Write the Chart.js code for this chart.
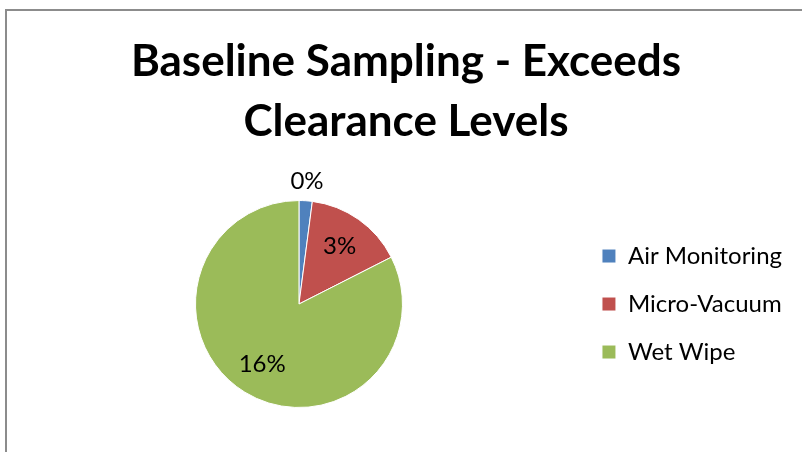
<!DOCTYPE html>
<html>
<head>
<meta charset="utf-8">
<script src="https://cdn.jsdelivr.net/npm/chart.js@4.4.0/dist/chart.umd.min.js"></script>
<style>
  html, body { margin: 0; padding: 0; background: #fff; overflow: hidden; }
  #wrap { position: relative; width: 802px; height: 452px; overflow: hidden; }
  #frame { position: absolute; left: 5px; top: 9px; width: 900px; height: 600px;
           border-left: 2px solid #8c8c8c; border-top: 2px solid #8c8c8c; }
  canvas { position: absolute; left: 0; top: 0; }
</style>
</head>
<body>
<div id="wrap">
  <div id="frame"></div>
  <canvas id="pie" width="802" height="452"></canvas>
</div>
<script>
const titleLines = ['Baseline Sampling - Exceeds', 'Clearance Levels'];
const categories = ['Air Monitoring', 'Micro-Vacuum', 'Wet Wipe'];
const values = [0.4, 3, 16];
const colors = ['#4F81BD', '#C0504D', '#9BBB59'];

// value labels: inside for big slices, outside for the tiny one
const sliceLabels = {
    id: 'sliceLabels',
    afterDatasetsDraw(chart) {
        const ctx = chart.ctx;
        const meta = chart.getDatasetMeta(0);
        ctx.save();
        ctx.font = '24px Lato';
        ctx.fillStyle = '#000';
        ctx.textAlign = 'center';
        ctx.textBaseline = 'middle';
        meta.data.forEach((arc, i) => {
            const mid = (arc.startAngle + arc.endAngle) / 2;
            const frac = (arc.endAngle - arc.startAngle) / (2 * Math.PI);
            const r = frac < 0.05 ? arc.outerRadius + 20 : arc.outerRadius * 0.68;
            const x = arc.x + Math.cos(mid) * r;
            const y = arc.y + Math.sin(mid) * r;
            ctx.fillText(Math.round(values[i]) + '%', x, y);
        });
        ctx.restore();
    }
};

const pieChart = new Chart(document.getElementById('pie').getContext('2d'), {
    type: 'pie',
    data: {
        labels: categories,
        datasets: [{
            data: values,
            backgroundColor: colors,
            borderColor: '#ffffff',
            borderWidth: 1
        }]
    },
    options: {
        responsive: false,
        devicePixelRatio: 1,
        animation: false,
        layout: {
            padding: { left: 20, right: 10, top: 0, bottom: 44 }
        },
        plugins: {
            title: {
                display: true,
                text: titleLines,
                color: '#000',
                font: { family: 'Lato', size: 44, weight: 'bold', lineHeight: 1.364 },
                padding: { top: 32, bottom: 48 }
            },
            legend: {
                position: 'right',
                fullSize: false,
                labels: {
                    color: '#000',
                    font: { family: 'Lato', size: 24 },
                    boxWidth: 14,
                    boxHeight: 14,
                    padding: 24
                }
            },
            tooltip: { enabled: false }
        }
    },
    plugins: [sliceLabels]
});
</script>
</body>
</html>
